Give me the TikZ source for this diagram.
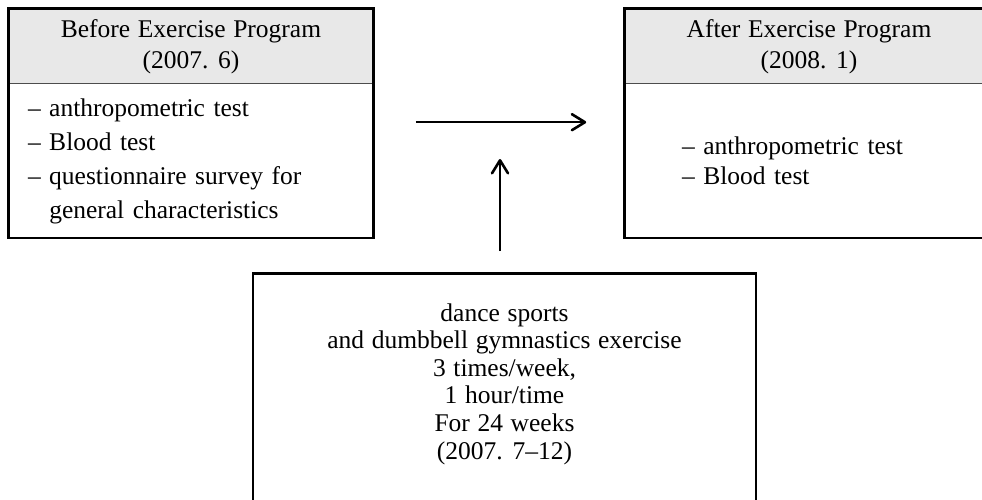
\documentclass[tikz,border=0pt]{standalone}
\usepackage{fontspec}
\setmainfont{Liberation Serif}[WordSpace=1.2]
\usetikzlibrary{positioning,arrows.meta,fit}
\tikzstyle{box_head} = [draw=black!70, line width=1pt, fill=gray!18, align=center, inner sep=0pt, minimum height=75pt, font=\fontsize{25.5}{31}\selectfont]
\tikzstyle{box_body} = [inner sep=0pt, minimum height=153pt, align=left, font=\fontsize{25.5}{34}\selectfont]
\tikzstyle{box_frame} = [draw, line width=2.6pt, inner sep=0pt]
\tikzstyle{prog_text} = [align=center, inner sep=0pt, font=\fontsize{25.5}{27.6}\selectfont]
\tikzstyle{arrow_line} = [line width=2.6pt, -{Straight Barb[length=13pt,width=16pt,line cap=round,line join=round]}]

\begin{document}
\begin{tikzpicture}[x=1pt,y=-1pt]
	\useasboundingbox (0,0) rectangle (982,500);
	\clip (0,0) rectangle (982,500);

	\node (beforehead) at (191,46.5) [box_head, minimum width=364pt] {Before Exercise Program\\(2007. 6)};
	\node (beforebody) [box_body, below=0pt of beforehead, minimum width=364pt, text width=326pt] {--~anthropometric test\\--~Blood test\\--~questionnaire survey for\\\phantom{--~}general characteristics};
	\node (before) [box_frame, fit=(beforehead)(beforebody)] {};

	\node (afterhead) at (809,46.5) [box_head, minimum width=368pt] {After Exercise Program\\(2008. 1)};
	\node (afterbody) [box_body, below=0pt of afterhead, minimum width=368pt, text width=254pt, font=\fontsize{25.5}{30}\selectfont] {\rule{0pt}{16pt}--~anthropometric test\\--~Blood test};
	\node (after) [box_frame, fit=(afterhead)(afterbody)] {};

	\node (exercise) at (504.5,272) [box_frame, anchor=north, minimum width=503pt, minimum height=260pt] {};
	\node (exercisetext) at ([yshift=-112pt]exercise.north) [prog_text] {dance sports\\and dumbbell gymnastics exercise\\3 times/week,\\1 hour/time\\For 24 weeks\\(2007. 7--12)};

	\coordinate (gostart) at ([xshift=41pt,yshift=1pt]before.east);
	\coordinate (goend) at ([xshift=-37pt,yshift=1pt]after.west);
	\coordinate (progstart) at ([xshift=-4.5pt,yshift=21pt]exercise.north);
	\coordinate (progend) at ([xshift=-4.5pt,yshift=113pt]exercise.north);

	\draw[arrow_line] (gostart) -- (goend);
	\draw[arrow_line] (progstart) -- (progend);
\end{tikzpicture}
\end{document}
